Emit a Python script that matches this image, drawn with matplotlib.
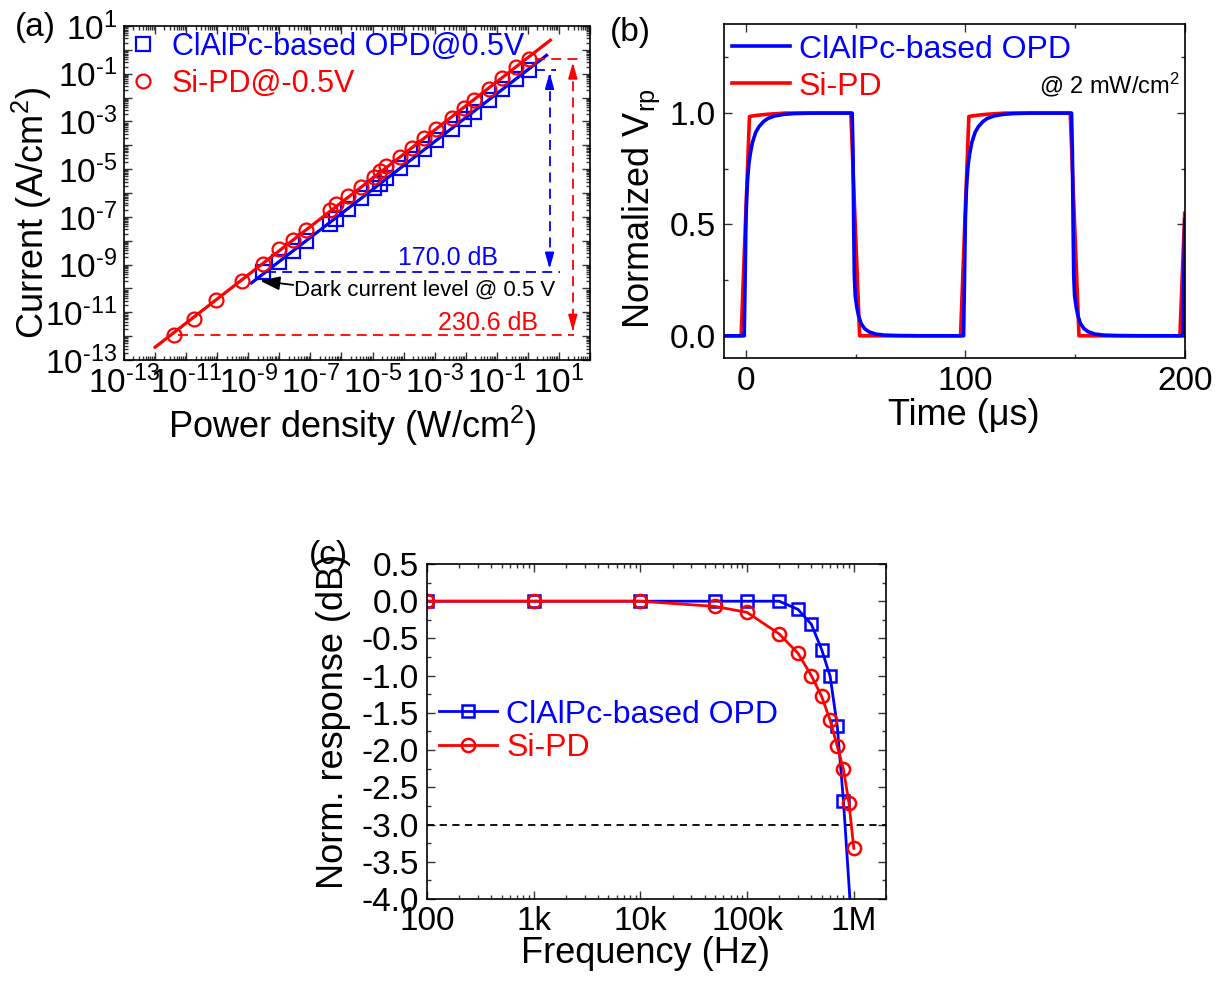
import numpy as np
import matplotlib
matplotlib.use("Agg")
import matplotlib.pyplot as plt
from matplotlib.ticker import (LogLocator, FuncFormatter, MultipleLocator,
                               FixedLocator, FixedFormatter, NullFormatter)
from matplotlib.lines import Line2D

plt.rcParams['font.family'] = ['Liberation Sans', 'DejaVu Sans']
plt.rcParams['mathtext.fontset'] = 'custom'
plt.rcParams['mathtext.rm'] = 'Liberation Sans'
plt.rcParams['mathtext.it'] = 'Liberation Sans:italic'
plt.rcParams['mathtext.bf'] = 'Liberation Sans:bold'
plt.rcParams['mathtext.default'] = 'regular'
plt.rcParams['axes.unicode_minus'] = False

BLUE = '#0000ff'
RED = '#ff0000'

# ---------------- (a) photocurrent vs. power density ----------------
power_low_si = [4.0e-12, 1.8e-11, 9.3e-11, 6.2e-10]           # W/cm^2
current_low_si = [1.17e-12, 5.5e-12, 3.2e-11, 2.0e-10]         # A/cm^2
power_shared = [2.95e-9, 9.5e-9, 2.7e-8, 7.1e-8, 4.3e-7, 6.8e-7, 1.6e-6,
                4.4e-6, 1.15e-5, 1.7e-5, 2.8e-5, 7.6e-5, 1.9e-4, 4.7e-4,
                1.1e-3, 3.5e-3, 8.7e-3, 1.9e-2, 5.7e-2, 0.145, 0.41, 1.05]
current_si = [1.1e-9, 4.3e-9, 1.1e-8, 2.95e-8, 1.9e-7, 3.4e-7, 7.4e-7,
              1.8e-6, 4.8e-6, 8.5e-6, 1.3e-5, 3.2e-5, 7.8e-5, 2.0e-4,
              5.0e-4, 1.45e-3, 3.8e-3, 7.8e-3, 2.4e-2, 6.9e-2, 0.19, 0.40]
current_opd = [4.7e-10, 1.3e-9, 3.8e-9, 9.3e-9, 5.2e-8, 8.5e-8, 2.1e-7,
               5.9e-7, 1.55e-6, 2.5e-6, 4.1e-6, 1.1e-5, 2.75e-5, 6.9e-5,
               1.6e-4, 5.0e-4, 1.3e-3, 2.5e-3, 8.3e-3, 2.4e-2, 5.9e-2, 0.148]
fit_span_si = [1.0e-12, 5.3]
fit_span_opd = [1.26e-9, 4.0]
ldr_labels = ['170.0 dB', '230.6 dB']
labels_a = ['ClAlPc-based OPD@0.5V', 'Si-PD@-0.5V']

# ---------------- (b) transient response ----------------
t_opd = [-10, -0.8, -0.4, 0.0, 0.4, 0.8, 1.3, 2.0, 3.0, 4.5, 6.0, 8.0, 10.0,
         13.0, 17.0, 22.0, 30.0,
         48.4, 48.8, 49.1, 49.4, 49.8, 50.5, 51.3, 52.5, 54.0, 56.0, 59.0,
         63.0, 70.0, 80.0,
         99.2, 99.6, 100.0, 100.4, 100.8, 101.3, 102.0, 103.0, 104.5, 106.0,
         108.0, 110.0, 113.0, 117.0, 122.0, 130.0,
         148.4, 148.8, 149.1, 149.4, 149.8, 150.5, 151.3, 152.5, 154.0, 156.0,
         159.0, 163.0, 170.0, 180.0,
         199.2, 199.6, 200.0]
v_opd = [0, 0, 0.25, 0.52, 0.64, 0.71, 0.77, 0.82, 0.87, 0.915, 0.94, 0.962,
         0.976, 0.987, 0.994, 0.998, 1.0,
         1.0, 0.82, 0.5, 0.27, 0.18, 0.13, 0.09, 0.055, 0.033, 0.018, 0.008,
         0.003, 0.001, 0.0,
         0, 0.25, 0.52, 0.64, 0.71, 0.77, 0.82, 0.87, 0.915, 0.94, 0.962,
         0.976, 0.987, 0.994, 0.998, 1.0,
         1.0, 0.82, 0.5, 0.27, 0.18, 0.13, 0.09, 0.055, 0.033, 0.018, 0.008,
         0.003, 0.001, 0.0,
         0, 0.27, 0.52]
t_si = [-10, -2.2, 1.6, 5, 10, 18, 47.8, 51.8,
        97.8, 101.6, 105, 110, 118, 147.8, 151.8, 197.8, 200]
v_si = [0, 0, 0.985, 0.99, 0.995, 1.0, 1.0, 0,
        0, 0.985, 0.99, 0.995, 1.0, 1.0, 0, 0, 0.55]
labels_b = ['ClAlPc-based OPD', 'Si-PD']

# ---------------- (c) frequency response ----------------
freq_opd = [1e2, 1e3, 1e4, 5e4, 1e5, 2e5, 3e5, 4e5, 5e5, 6e5, 7e5, 8e5, 1e6]
resp_opd = [0, 0, 0, 0, 0, 0, -0.11, -0.31, -0.65, -1.01, -1.68, -2.69, -4.8]
freq_si = [1e2, 1e3, 1e4, 5e4, 1e5, 2e5, 3e5, 4e5, 5e5, 6e5, 7e5, 8e5, 9e5, 1e6]
resp_si = [0, 0, 0, -0.07, -0.15, -0.44, -0.70, -1.0, -1.28, -1.60, -1.95,
           -2.26, -2.71, -3.32]
cutoff_db = -3.0
freq_ticks = [1e2, 1e3, 1e4, 1e5, 1e6]
freq_ticklabels = ['100', '1k', '10k', '100k', '1M']

TICK = 24
LABEL = 26

fig = plt.figure(figsize=(12.22, 9.81), dpi=100)
ax_a = fig.add_axes([0.1015, 0.633, 0.3813, 0.3405])
ax_b = fig.add_axes([0.5925, 0.635, 0.3770, 0.3405])
ax_c = fig.add_axes([0.3494, 0.0836, 0.3756, 0.3415])


def style_axes(ax):
    ax.tick_params(which='both', direction='in', top=True, right=True,
                   labelsize=TICK, width=1.0, color='#333333')
    ax.tick_params(which='major', length=6)
    ax.tick_params(which='minor', length=3)
    for s in ax.spines.values():
        s.set_linewidth(1.2)


# ---- panel (a)
p_si = np.array(power_low_si + power_shared)
i_si = np.array(current_low_si + current_si)
p_opd = np.array(power_shared)
i_opd = np.array(current_opd)

k_si, b_si = np.polyfit(np.log10(p_si), np.log10(i_si), 1)
k_op, b_op = np.polyfit(np.log10(p_opd), np.log10(i_opd), 1)
xs_si = np.array(fit_span_si)
xs_op = np.array(fit_span_opd)

ax_a.plot(p_opd, i_opd, ls='none', marker='s', ms=9.5, mfc='none',
          mec=BLUE, mew=1.6)
ax_a.plot(xs_op, 10 ** (b_op + k_op * np.log10(xs_op)), color=BLUE, lw=2.3)
ax_a.plot(p_si, i_si, ls='none', marker='o', ms=10, mfc='none',
          mec=RED, mew=1.6)
ax_a.plot(xs_si, 10 ** (b_si + k_si * np.log10(xs_si)), color=RED, lw=2.3)

dash = (0, (5.5, 3.5))
# dynamic-range guides
ax_a.hlines(i_opd[0], p_opd[0] * 1.3, 11.0, colors=BLUE, linestyles=dash, lw=1.3)
ax_a.hlines(i_opd[-1], p_opd[-1] * 1.6, 8.1, colors=BLUE, linestyles=dash, lw=1.3)
ax_a.hlines(i_si[0], p_si[0] * 1.4, 30.0, colors=RED, linestyles=dash, lw=1.3)
ax_a.hlines(i_si[-1], p_si[-1] * 1.6, 53.0, colors=RED, linestyles=dash, lw=1.3)
for x, top, bot, c in [(5.0, i_opd[-1], i_opd[0], BLUE),
                       (28.0, i_si[-1], i_si[0], RED)]:
    ax_a.plot([x, x], [top * 0.6, bot * 1.6], color=c, ls=dash, lw=1.3)
    for tip, tail in [(top * 0.75, top * 0.2), (bot * 1.4, bot * 5)]:
        ax_a.annotate('', xy=(x, tip), xytext=(x, tail),
                      arrowprops=dict(arrowstyle='-|>,head_length=0.95,head_width=0.27',
                                      color=c, lw=1.3, mutation_scale=10,
                                      shrinkA=0, shrinkB=0))

ax_a.text(2.6e-3, 1.8e-9, ldr_labels[0], color=BLUE, fontsize=18,
          ha='center', va='center')
ax_a.text(0.052, 3.4e-12, ldr_labels[1], color=RED, fontsize=18,
          ha='center', va='center')
ax_a.text(3.0e-8, 8.5e-11, 'Dark current level @ 0.5 V', fontsize=16,
          ha='left', va='center')
ax_a.annotate('', xy=(2.4e-9, 2.1e-10), xytext=(2.8e-8, 1.4e-10),
              arrowprops=dict(arrowstyle='-|>,head_length=1.0,head_width=0.35',
                              color='black', lw=1.3, mutation_scale=12,
                              shrinkA=0, shrinkB=0))

ax_a.set_xscale('log')
ax_a.set_yscale('log')
ax_a.set_xlim(1e-13, 1e2)
ax_a.set_ylim(1e-13, 1e1)
style_axes(ax_a)


def odd_decades(v, pos):
    e = int(round(np.log10(v)))
    if e % 2 == 0:
        return ''
    return r'$10^{\text{%d}}$' % e


for axis in (ax_a.xaxis, ax_a.yaxis):
    axis.set_major_locator(LogLocator(base=10, numticks=40))
    axis.set_minor_locator(LogLocator(base=10, subs=np.arange(2, 10), numticks=40))
    axis.set_major_formatter(FuncFormatter(odd_decades))
    axis.set_minor_formatter(NullFormatter())
ax_a.tick_params(axis='x', pad=4)
ax_a.tick_params(axis='y', pad=5)

ax_a.set_xlabel('Power density (W/cm$^2$)', fontsize=LABEL)
ax_a.set_ylabel('Current (A/cm$^2$)', fontsize=LABEL)
ax_a.xaxis.set_label_coords(0.49, -0.13)
ax_a.yaxis.set_label_coords(-0.15, 0.44)

h_a = [Line2D([], [], ls='none', marker='s', ms=9.5, mfc='none', mec=BLUE, mew=1.6),
       Line2D([], [], ls='none', marker='o', ms=10, mfc='none', mec=RED, mew=1.6)]
leg = ax_a.legend(h_a, labels_a, loc='center left', bbox_to_anchor=(0.008, 0.882),
                  frameon=False, fontsize=22, handlelength=1.0, handletextpad=0.45,
                  borderpad=0, borderaxespad=0, labelspacing=0.22)
for txt, c in zip(leg.get_texts(), [BLUE, RED]):
    txt.set_color(c)

# ---- panel (b)
ax_b.plot(t_si, v_si, color=RED, lw=2.6, label=labels_b[1])
ax_b.plot(t_opd, v_opd, color=BLUE, lw=2.6, label=labels_b[0])
ax_b.set_xlim(-10, 200)
ax_b.set_ylim(-0.1, 1.4)
style_axes(ax_b)
ax_b.xaxis.set_major_locator(MultipleLocator(100))
ax_b.xaxis.set_minor_locator(MultipleLocator(50))
ax_b.yaxis.set_major_locator(FixedLocator([0.0, 0.5, 1.0]))
ax_b.yaxis.set_major_formatter(FuncFormatter(lambda v, p: '%.1f' % v))
ax_b.yaxis.set_minor_locator(FixedLocator([0.25, 0.75, 1.25]))
ax_b.tick_params(axis='x', pad=6)
ax_b.tick_params(axis='y', pad=6)
ax_b.set_xlabel('Time (μs)', fontsize=LABEL)
ax_b.set_ylabel('Normalized V$_{rp}$', fontsize=LABEL)
ax_b.xaxis.set_label_coords(0.52, -0.12)
ax_b.yaxis.set_label_coords(-0.135, 0.446)
ax_b.text(198, 1.127, '@ 2 mW/cm$^2$', fontsize=17, ha='right', va='center')
hb, lb = ax_b.get_legend_handles_labels()
leg = ax_b.legend(hb[::-1], lb[::-1], loc='center left', bbox_to_anchor=(0.017, 0.868),
                  frameon=False, fontsize=23, handlelength=1.82, handletextpad=0.27,
                  borderpad=0, borderaxespad=0, labelspacing=0.22)
for txt, c in zip(leg.get_texts(), [BLUE, RED]):
    txt.set_color(c)

# ---- panel (c)
ax_c.axhline(cutoff_db, color='black', ls=(0, (4, 3)), lw=1.3)
ax_c.plot(freq_opd, resp_opd, color=BLUE, lw=2.0, marker='s', ms=8, mfc='none',
          mec=BLUE, mew=1.8, label=labels_b[0])
ax_c.plot(freq_si, resp_si, color=RED, lw=2.0, marker='o', ms=9.5, mfc='none',
          mec=RED, mew=1.8, label=labels_b[1])
ax_c.set_xscale('log')
ax_c.set_xlim(1e2, 2e6)
ax_c.set_ylim(-4.0, 0.5)
style_axes(ax_c)
ax_c.xaxis.set_major_locator(FixedLocator(freq_ticks))
ax_c.xaxis.set_major_formatter(FixedFormatter(freq_ticklabels))
ax_c.xaxis.set_minor_locator(LogLocator(base=10, subs=np.arange(2, 10), numticks=40))
ax_c.xaxis.set_minor_formatter(NullFormatter())
ax_c.yaxis.set_major_locator(MultipleLocator(0.5))
ax_c.yaxis.set_minor_locator(MultipleLocator(0.25))
ax_c.yaxis.set_major_formatter(FuncFormatter(lambda v, p: '%.1f' % v))
ax_c.tick_params(axis='x', pad=5)
ax_c.tick_params(axis='y', pad=6)
ax_c.set_xlabel('Frequency (Hz)', fontsize=LABEL)
ax_c.set_ylabel('Norm. response (dB)', fontsize=LABEL)
ax_c.xaxis.set_label_coords(0.477, -0.11)
ax_c.yaxis.set_label_coords(-0.165, 0.53)
leg = ax_c.legend(loc='center left', bbox_to_anchor=(0.027, 0.50),
                  frameon=False, fontsize=23, handlelength=1.82, handletextpad=0.27,
                  borderpad=0, borderaxespad=0, labelspacing=0.12)
for txt, c in zip(leg.get_texts(), [BLUE, RED]):
    txt.set_color(c)

fig.text(0.0286, 0.9715, '(a)', fontsize=24, ha='center', va='center')
fig.text(0.5155, 0.967, '(b)', fontsize=24, ha='center', va='center')
fig.text(0.269, 0.434, '(c)', fontsize=24, ha='center', va='center')

fig.savefig('out.png', dpi=100)
